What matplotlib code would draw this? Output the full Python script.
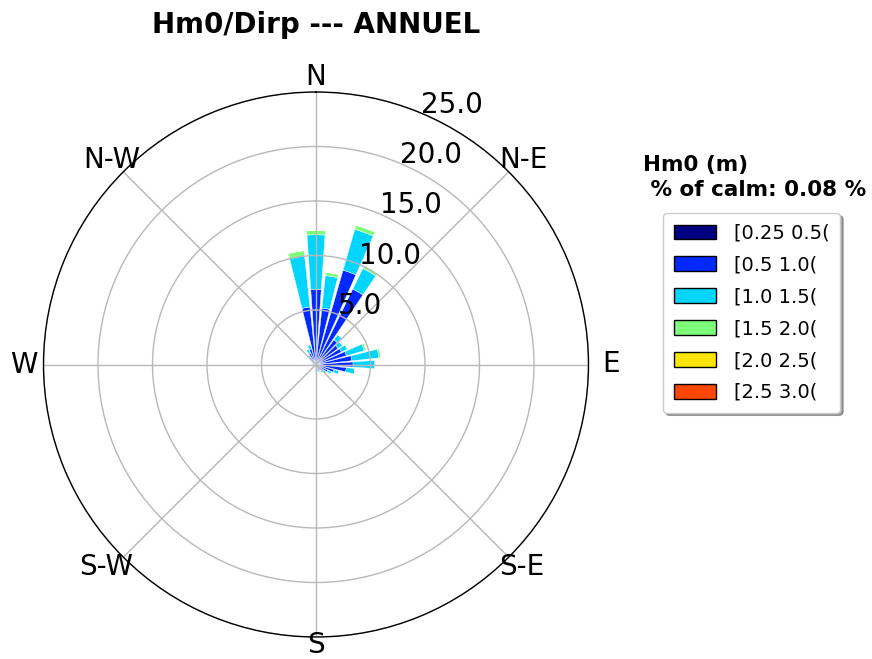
import numpy as np
import matplotlib
matplotlib.use("Agg")
import matplotlib.pyplot as plt
from matplotlib.patches import Patch
from matplotlib.transforms import ScaledTranslation

# ---- data ----
directions = list(range(0, 360, 10))  # sector centres, degrees from N, clockwise
bin_labels = ["[0.25 0.5(", "[0.5 1.0(", "[1.0 1.5(", "[1.5 2.0(", "[2.0 2.5(", "[2.5 3.0("]

# frequencies (%) per Hm0 class, one value per direction sector
h_025_05 = [0.4, 0.3, 0.4, 0.3, 0.3, 0.3, 0.3, 0.3, 0.3, 0.3, 0.3, 0.2,
            0.2, 0.2, 0.2, 0.2, 0.2, 0.2, 0.2, 0.1, 0.1, 0.1, 0.1, 0.1,
            0.1, 0.1, 0.1, 0.1, 0.1, 0.1, 0.1, 0.2, 0.2, 0.3, 0.3, 0.3]
h_05_10 = [6.5, 4.9, 8.6, 7.4, 2.5, 2.2, 2.3, 2.6, 3.0, 3.1, 2.5, 1.5,
           1.0, 0.7, 0.5, 0.4, 0.4, 0.4, 0.4, 0.3, 0.2, 0.2, 0.2, 0.2,
           0.2, 0.2, 0.2, 0.2, 0.2, 0.3, 0.3, 0.4, 0.6, 0.9, 1.2, 5.0]
h_10_15 = [5.0, 3.0, 3.9, 2.1, 0.6, 0.5, 0.6, 1.7, 2.5, 2.0, 0.8, 0.5,
           0.4, 0.3, 0.2, 0.2, 0.2, 0.1, 0.1, 0.1, 0.1, 0.0, 0.0, 0.0,
           0.0, 0.0, 0.1, 0.1, 0.1, 0.1, 0.1, 0.2, 0.3, 0.4, 0.4, 4.7]
h_15_20 = [0.4, 0.3, 0.4, 0.3, 0.0, 0.0, 0.1, 0.2, 0.2, 0.1, 0.0, 0.0,
           0.0, 0.0, 0.0, 0.0, 0.0, 0.0, 0.0, 0.0, 0.0, 0.0, 0.0, 0.0,
           0.0, 0.0, 0.0, 0.0, 0.0, 0.0, 0.0, 0.0, 0.0, 0.0, 0.0, 0.5]
h_20_25 = [0.0] * 36
h_25_30 = [0.0] * 36

series = [h_025_05, h_05_10, h_10_15, h_15_20, h_20_25, h_25_30]
radial_ticks = [5.0, 10.0, 15.0, 20.0, 25.0]
compass_angles = [0, 45, 90, 135, 180, 225, 270, 315]
compass_labels = ["N", "N-E", "E", "S-E", "S", "S-W", "W", "N-W"]
# pixel offsets of the compass labels from the outer circle (styling)
compass_offsets = [(0, 15), (15, 12), (23, 0), (13, -10), (0, -8), (-17, -10), (-20, 0), (-12, 12)]

colors = [plt.cm.jet(i / 6.0) for i in range(6)]

DPI = 100
fig = plt.figure(figsize=(8.72, 6.59), dpi=DPI)
ax = fig.add_axes([43.5 / 872, 22 / 659, 545 / 872, 545 / 659], projection="polar")
ax.set_theta_zero_location("N")
ax.set_theta_direction(-1)

theta = np.deg2rad(directions)
width = np.deg2rad(10) * 0.8
bottom = np.zeros(len(directions))
for vals, col in zip(series, colors):
    v = np.array(vals)
    ax.bar(theta, v, width=width, bottom=bottom, color=col, edgecolor="white",
           linewidth=0.3)
    bottom += v

rmax = 25.0
ax.set_ylim(0, rmax)
ax.set_rgrids(radial_ticks, labels=[""] * len(radial_ticks), angle=22.5)
ax.set_thetagrids(compass_angles, labels=[""] * len(compass_angles))
ax.grid(True, color="#b8b8b8", linewidth=1.0)
ax.spines["polar"].set_color("black")
ax.spines["polar"].set_linewidth(1.0)

for ang, lab, (dx, dy) in zip(compass_angles, compass_labels, compass_offsets):
    tr = ax.transData + ScaledTranslation(dx / DPI, dy / DPI, fig.dpi_scale_trans)
    ax.text(np.deg2rad(ang), rmax, lab, transform=tr, ha="center", va="center",
            fontsize=20, clip_on=False)

for r in radial_ticks:
    tr = ax.transData + ScaledTranslation(1 / DPI, 0, fig.dpi_scale_trans)
    ax.text(np.deg2rad(22.5), r, "%.1f" % r, transform=tr, ha="left", va="baseline",
            fontsize=20, clip_on=False, zorder=5)

fig.text(316 / 872, 1 - 25 / 659, "Hm0/Dirp --- ANNUEL", ha="center", va="center",
         fontsize=20, fontweight="bold")
fig.text(643 / 872, 1 - 155 / 659, "Hm0 (m)\n % of calm: 0.08 %", ha="left", va="top",
         fontsize=15.5, fontweight="bold", linespacing=1.3)

handles = [Patch(facecolor=c, edgecolor="black", linewidth=1.0) for c in colors]
leg = fig.legend(handles, bin_labels, loc="upper left",
                 bbox_to_anchor=(663 / 872, 1 - 213 / 659), borderaxespad=0.0,
                 fontsize=14, shadow=True, frameon=True, handlelength=2.2,
                 handleheight=0.8, handletextpad=0.9, labelspacing=0.66,
                 borderpad=0.55, fancybox=True)
leg.get_frame().set_edgecolor("#cccccc")

fig.savefig("out.png", dpi=DPI)
